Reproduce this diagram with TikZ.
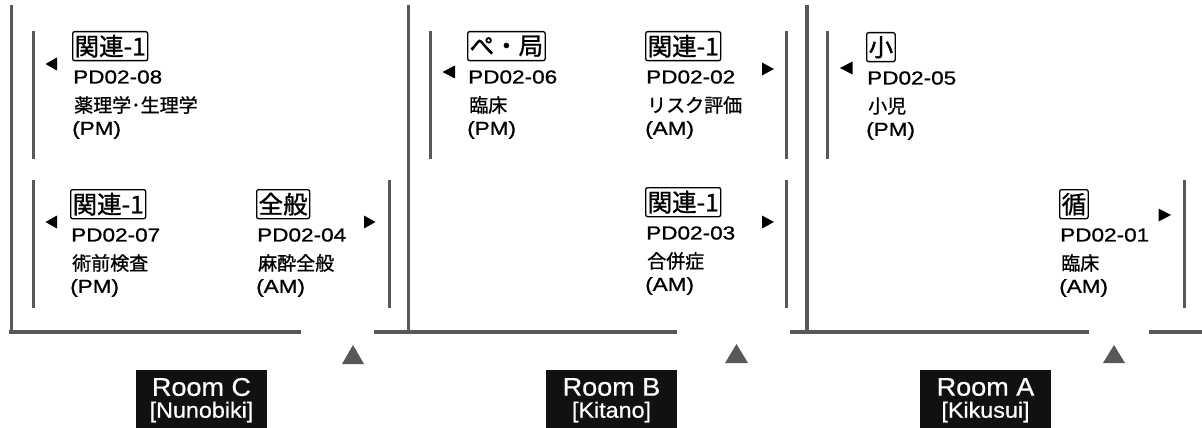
\documentclass[tikz,border=0pt]{standalone}
\usepackage{fontspec}
\setmainfont{Liberation Sans}
\newfontfamily\jpfont[FakeBold=1.0]{Noto Sans CJK JP}
\newfontfamily\tagfont[FakeBold=1.2]{Noto Sans CJK JP}
\newfontfamily\latfont[FakeStretch=1.2,FakeBold=1.0]{Liberation Sans}
\newfontfamily\labfont[FakeStretch=1.06,FakeBold=0.7]{Liberation Sans}
\definecolor{wallgray}{HTML}{585858}
\definecolor{labelblack}{HTML}{111111}
\tikzset{
  wallline/.style={draw=wallgray,line width=3.3pt},
  barline/.style={draw=wallgray,line width=3pt},
  tagbox/.style={draw=black,line width=1.3pt,rounded corners=2pt,inner xsep=2pt,inner ysep=0pt,
    minimum height=29pt,anchor=north west,font=\tagfont\fontsize{24.5}{25}\selectfont},
  codetxt/.style={anchor=west,inner sep=0pt,font=\latfont\fontsize{18.8}{19}\selectfont},
  jptxt/.style={anchor=west,inner sep=0pt,font=\jpfont\fontsize{19}{19}\selectfont},
  ampmtxt/.style={anchor=west,inner sep=0pt,font=\latfont\fontsize{18.8}{19}\selectfont},
  roombox/.style={fill=labelblack,minimum width=131pt,minimum height=58pt,inner sep=0pt,anchor=north},
  roomname/.style={text=white,inner sep=0pt,font=\labfont\fontsize{25.5}{26}\selectfont},
  roomsub/.style={text=white,inner sep=0pt,font=\labfont\fontsize{22}{22}\selectfont},
}
% #1 name, #2 x, #3 y top, #4 tag, #5 code, #6 japanese, #7 am/pm
\newcommand\sessionblock[7]{%
  \node[tagbox] (#1tag) at (#2,#3) {#4};
  \node[codetxt] (#1code) at (#2+1,#3+46) {#5};
  \node[jptxt] (#1jp) at (#2+2,#3+74) {#6};
  \node[ampmtxt] (#1time) at (#2,#3+99) {#7};
}
\newcommand\lmarker[3]{\fill (#1,#3) -- (#2,#3-6.5) -- (#2,#3+6.5) -- cycle;}
\newcommand\rmarker[3]{\fill (#2,#3) -- (#1,#3-6.5) -- (#1,#3+6.5) -- cycle;}
\begin{document}
\begin{tikzpicture}[x=1pt,y=-1pt]
\useasboundingbox (0,0) rectangle (1202,428);
% walls
\draw[wallline] (11.5,5) -- (11.5,332);
\draw[wallline] (408.5,5) -- (408.5,332);
\draw[wallline] (807,5) -- (807,332);
\draw[wallline] (9,332) -- (301,332);
\draw[wallline] (374,332) -- (677,332);
\draw[wallline] (790,332) -- (1089,332);
\draw[wallline] (1149,332) -- (1202,332);
% inner bars
\draw[barline] (33,31) -- (33,159);
\draw[barline] (33,180) -- (33,308);
\draw[barline] (389,180) -- (389,308);
\draw[barline] (430,31) -- (430,159);
\draw[barline] (786,31) -- (786,159);
\draw[barline] (786,180) -- (786,308);
\draw[barline] (827,31) -- (827,159);
\draw[barline] (1184,180) -- (1184,308);
% markers
\lmarker{45.5}{57}{64}
\lmarker{45.5}{57}{222}
\rmarker{364}{375.5}{222}
\lmarker{442.5}{455}{72}
\rmarker{762}{774}{69}
\rmarker{762}{774}{222}
\lmarker{840}{852.5}{68}
\rmarker{1158.5}{1171}{215}
% entrances
\fill[wallgray] (342,364) -- (353,345) -- (364,364) -- cycle;
\fill[wallgray] (725,363) -- (736.5,344) -- (748,363) -- cycle;
\fill[wallgray] (1103,363) -- (1114,345) -- (1125,363) -- cycle;
% sessions
\sessionblock{c1}{72}{31}{関連-1}{PD02-08}{薬理学･生理学}{(PM)}
\sessionblock{c2}{70}{189}{関連-1}{PD02-07}{術前検査}{(PM)}
\sessionblock{c3}{256}{189}{全般}{PD02-04}{麻酔全般}{(AM)}
\sessionblock{b1}{467}{31}{ぺ・局}{PD02-06}{臨床}{(PM)}
\sessionblock{b2}{645}{31}{関連-1}{PD02-02}{リスク評価}{(AM)}
\sessionblock{b3}{645}{187}{関連-1}{PD02-03}{合併症}{(AM)}
\sessionblock{a1}{866}{32}{小}{PD02-05}{小児}{(PM)}
\sessionblock{a2}{1059}{189}{循}{PD02-01}{臨床}{(AM)}
% room labels
\node[roombox] (rc) at (201.5,370) {};
\node[roomname] (rcn) at (201.5,387) {Room C};
\node[roomsub] (rcs) at (201.5,412) {[Nunobiki]};
\node[roombox] (rb) at (611.5,370) {};
\node[roomname] (rbn) at (611.5,387) {Room B};
\node[roomsub] (rbs) at (611.5,412) {[Kitano]};
\node[roombox] (ra) at (985.5,370) {};
\node[roomname] (ran) at (985.5,387) {Room A};
\node[roomsub] (ras) at (985.5,412) {[Kikusui]};
\end{tikzpicture}
\end{document}
